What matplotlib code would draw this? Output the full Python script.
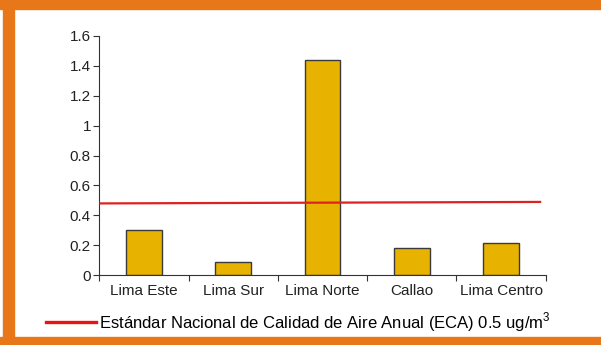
import matplotlib
matplotlib.use("Agg")
import matplotlib.pyplot as plt
from matplotlib.lines import Line2D
from matplotlib.patches import Rectangle
import numpy as np

plt.rcParams["font.family"] = ["Liberation Sans", "DejaVu Sans"]
plt.rcParams["mathtext.fontset"] = "custom"
plt.rcParams["mathtext.rm"] = "Liberation Sans"

# Concentracion anual por zona
zonas = ["Lima Este", "Lima Sur", "Lima Norte", "Callao", "Lima Centro"]
valores = [0.30, 0.087, 1.44, 0.185, 0.215]
eca = [0.48, 0.49]  # linea del estandar (extremos izq./der.)
eca_label = "Estándar Nacional de Calidad de Aire Anual (ECA) 0.5 ug/m$^{3}$"
yticks = [0, 0.2, 0.4, 0.6, 0.8, 1, 1.2, 1.4, 1.6]

naranja = "#E8771A"
barra = "#E8B200"
gris = "#333333"

fig = plt.figure(figsize=(6.01, 3.45), dpi=100)
ax = fig.add_axes([99.3 / 601, 1 - 275.3 / 345, (545.7 - 99.3) / 601, (275.3 - 35.7) / 345])

x = np.arange(len(zonas))
ax.bar(x, valores, width=0.4, color=barra, edgecolor="#3a3a3a", linewidth=1.0, zorder=2)
ax.plot([-0.5, 4.45], eca, color="#DD2222", linewidth=1.6, zorder=3, solid_capstyle="butt")

ax.set_xlim(-0.5, 4.5)
ax.set_ylim(0, 1.6)
ax.set_yticks(yticks)
ax.set_yticklabels([f"{t:g}" for t in yticks])
ax.set_xticks(x)
ax.set_xticklabels(zonas)
ax.set_xticks(np.arange(-0.5, 5, 1), minor=True)
ax.tick_params(axis="x", which="major", length=0, pad=6, labelsize=11, colors="#222222")
ax.tick_params(axis="x", which="minor", length=4, width=0.8, color=gris)
ax.tick_params(axis="y", length=4, width=0.8, color=gris, pad=2, labelsize=11, labelcolor="#222222")

for s in ("top", "right"):
    ax.spines[s].set_visible(False)
for s in ("left", "bottom"):
    ax.spines[s].set_color(gris)
    ax.spines[s].set_linewidth(0.8)

# leyenda al pie
h = Line2D([], [], color="#EE1111", linewidth=2.4)
fig.legend(handles=[h], labels=[eca_label], loc="center left",
           bbox_to_anchor=(46 / 601, 1 - 321.7 / 345), frameon=False,
           borderpad=0, borderaxespad=0, handlelength=3.0, handletextpad=0.2,
           fontsize=12)

# marco naranja
fig.patches.append(Rectangle((0, 1 - 9 / 345), 1, 9 / 345, transform=fig.transFigure,
                             color=naranja, zorder=0))
fig.patches.append(Rectangle((3 / 601, 0), 11 / 601, 1, transform=fig.transFigure,
                             color=naranja, zorder=0))
fig.patches.append(Rectangle((0, 0), 1, 8.5 / 345, transform=fig.transFigure,
                             color=naranja, zorder=0))

fig.savefig("out.png", dpi=100)
